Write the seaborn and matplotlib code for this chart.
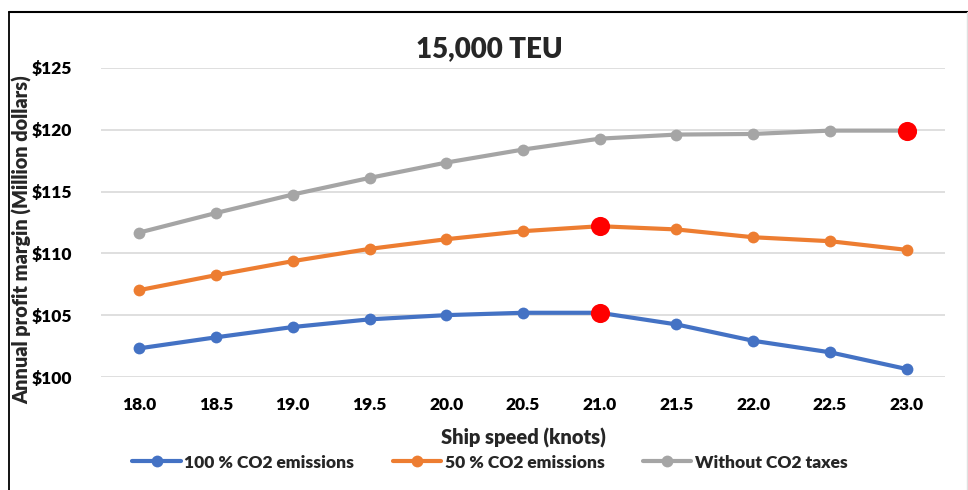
import matplotlib
matplotlib.use("Agg")
import matplotlib.pyplot as plt
from matplotlib.lines import Line2D
import seaborn as sns
import pandas as pd

# Ship speeds (knots) and annual profit margin (million dollars)
speeds = [18.0, 18.5, 19.0, 19.5, 20.0, 20.5, 21.0, 21.5, 22.0, 22.5, 23.0]
co2_100 = [102.34, 103.23, 104.06, 104.68, 105.02, 105.21, 105.21, 104.27, 102.95, 102.02, 100.67]
co2_50 = [107.04, 108.25, 109.38, 110.37, 111.15, 111.80, 112.20, 111.94, 111.31, 110.99, 110.29]
no_tax = [111.69, 113.27, 114.76, 116.10, 117.34, 118.39, 119.27, 119.60, 119.65, 119.92, 119.92]

series_names = ["100 % CO2 emissions", "50 % CO2 emissions", "Without CO2 taxes"]
series_values = [co2_100, co2_50, no_tax]
optimal_speeds = [21.0, 21.0, 23.0]

y_ticks = [100, 105, 110, 115, 120, 125]
y_tick_labels = ["$100", "$105", "$110", "$115", "$120", "$125"]
x_tick_labels = ["18.0", "18.5", "19.0", "19.5", "20.0", "20.5", "21.0", "21.5", "22.0", "22.5", "23.0"]

colors = ["#4472C4", "#ED7D31", "#A5A5A5"]

df = pd.concat(
    [pd.DataFrame({"speed": speeds, "margin": vals, "scenario": name})
     for name, vals in zip(series_names, series_values)],
    ignore_index=True,
)

opt = pd.DataFrame({
    "speed": optimal_speeds,
    "margin": [vals[speeds.index(s)] for vals, s in zip(series_values, optimal_speeds)],
})

W = 800  # heavy text weight used for every label

sns.set_theme(style="white")
plt.rcParams["font.family"] = ["Lato", "DejaVu Sans"]
plt.rcParams["font.weight"] = W

fig = plt.figure(figsize=(9.68, 4.90), dpi=100)
ax = fig.add_axes([101 / 968, 1 - 377.3 / 490, (945 - 101) / 968, (377.3 - 67.7) / 490])

ax.yaxis.grid(True, color="#D9D9D9", linewidth=1.2)
ax.set_axisbelow(True)

sns.lineplot(
    data=df, x="speed", y="margin", hue="scenario", palette=colors,
    marker="o", markersize=8.5, markeredgewidth=0, linewidth=3,
    legend=False, ax=ax, zorder=3,
)
sns.scatterplot(data=opt, x="speed", y="margin", color="#FF0000", s=190,
                linewidth=0, ax=ax, zorder=5, legend=False)

ax.set_xlim(17.75, 23.25)
ax.set_ylim(100, 125)
ax.set_xticks(speeds)
ax.set_xticklabels(x_tick_labels)
ax.set_yticks(y_ticks)
ax.set_yticklabels(y_tick_labels)
ax.tick_params(axis="both", length=0, labelsize=12.5, colors="black")
ax.tick_params(axis="x", pad=14)
ax.tick_params(axis="y", pad=21)
for lbl in ax.get_xticklabels() + ax.get_yticklabels():
    lbl.set_fontweight(W)

for side in ["top", "right", "left", "bottom"]:
    ax.spines[side].set_visible(False)

ax.set_xlabel("Ship speed (knots)", fontsize=14.5, fontweight=W, labelpad=11)
ax.set_ylabel("")
fig.text(22 / 968, 1 - 240 / 490, "Annual profit margin (Million dollars)",
         rotation=90, ha="center", va="center", fontsize=14.3, fontweight=W)

fig.text(489 / 968, 1 - 49 / 490, "15,000 TEU", ha="center", va="center",
         fontsize=20, fontweight=W)

handles = [Line2D([0], [0], color=c, linewidth=3, marker="o", markersize=8.5,
                  markeredgewidth=0) for c in colors]
fig.legend(handles, series_names, loc="center", bbox_to_anchor=(490 / 968, 1 - 462.5 / 490),
           ncol=3, frameon=False, handlelength=2.8,
           handletextpad=0.2, columnspacing=2.2,
           prop={"weight": W, "size": 12.5})

# chart frame
fig.add_artist(Line2D([8.5 / 968, 8.5 / 968], [0, 1 - 12.5 / 490], color="black", linewidth=1.3,
                      transform=fig.transFigure))
fig.add_artist(Line2D([8.5 / 968, 1], [1 - 12.5 / 490, 1 - 12.5 / 490], color="black", linewidth=1.5,
                      transform=fig.transFigure))
fig.add_artist(Line2D([966.5 / 968, 966.5 / 968], [0, 1 - 12.5 / 490], color="#E0E0E0", linewidth=1,
                      transform=fig.transFigure))

fig.savefig("out.png", dpi=100)
